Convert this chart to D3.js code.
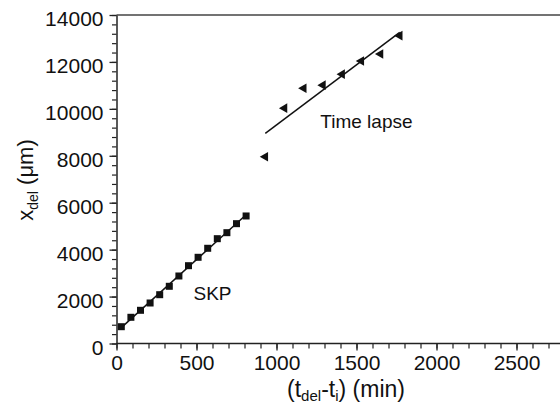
<!DOCTYPE html>
<html>
<head>
<meta charset="utf-8">
<script src="https://cdn.jsdelivr.net/npm/d3@7"></script>
<style>
  html, body { margin: 0; padding: 0; background: #fff; }
  svg { display: block; }
  text { font-family: "Liberation Sans", Arial, sans-serif; fill: #111; }
</style>
</head>
<body>
<svg id="chart" width="560" height="403"></svg>
<script>
// ---- data ----
const skpTime = [30, 90, 150, 210, 270, 330, 390, 450, 510, 570, 630, 690, 750, 810];
const skpDist = [716, 1117, 1415, 1726, 2080, 2438, 2877, 3316, 3674, 4058, 4467, 4723, 5107, 5435];
const lapseTime = [930, 1050, 1170, 1290, 1410, 1530, 1650, 1770];
const lapseDist = [7960, 10030, 10880, 11010, 11480, 12040, 12340, 13120];
const xTicks = [0, 500, 1000, 1500, 2000, 2500];
const yTicks = [0, 2000, 4000, 6000, 8000, 10000, 12000, 14000];

const svg = d3.select("#chart");
const W = 560;
const x = d3.scaleLinear().domain([0, 3000]).range([116.5, 596.5]);
const y = d3.scaleLinear().domain([0, 14000]).range([343.5, 15]);

// top frame line
svg.append("line")
  .attr("x1", x(0)).attr("x2", W)
  .attr("y1", y(14000)).attr("y2", y(14000))
  .attr("stroke", "#444").attr("stroke-width", 1.5);

// minor ticks
const xMinor = d3.range(0, 2801, 100);
const yMinor = d3.range(0, 14001, 400);
svg.append("g").attr("transform", `translate(0,${y(0)})`)
  .call(d3.axisBottom(x).tickValues(xMinor).tickSize(5).tickFormat(""))
  .call(g => g.select(".domain").remove())
  .selectAll("line").attr("stroke", "#222").attr("stroke-width", 1.2);
svg.append("g").attr("transform", `translate(${x(0)},0)`)
  .call(d3.axisLeft(y).tickValues(yMinor).tickSize(4.5).tickFormat(""))
  .call(g => g.select(".domain").remove())
  .selectAll("line").attr("stroke", "#222").attr("stroke-width", 1.2);

// major axes
const gx = svg.append("g").attr("transform", `translate(0,${y(0)})`)
  .call(d3.axisBottom(x).tickValues(xTicks).tickSize(7).tickSizeOuter(0).tickPadding(5).tickFormat(d3.format("d")));
gx.select(".domain").attr("d", `M${x(0)},0H${W}`).attr("stroke", "#222").attr("stroke-width", 1.5);
gx.selectAll(".tick line").attr("stroke", "#222").attr("stroke-width", 1.3);
gx.selectAll(".tick text").attr("font-size", 21).attr("font-family", "Liberation Sans, Arial, sans-serif").attr("fill", "#111");

const gy = svg.append("g").attr("transform", `translate(${x(0)},0)`)
  .call(d3.axisLeft(y).tickValues(yTicks).tickSize(7).tickSizeOuter(0).tickPadding(6).tickFormat(d3.format("d")));
gy.select(".domain").attr("stroke", "#222").attr("stroke-width", 1.5);
gy.selectAll(".tick line").attr("stroke", "#222").attr("stroke-width", 1.3);
gy.selectAll(".tick text").attr("font-size", 21).attr("dy", "0.5em").attr("font-family", "Liberation Sans, Arial, sans-serif").attr("fill", "#111");

// linear fits
function fit(ts, vs) {
  const mt = d3.mean(ts), mv = d3.mean(vs);
  let num = 0, den = 0;
  ts.forEach((t, i) => { num += (t - mt) * (vs[i] - mv); den += (t - mt) * (t - mt); });
  const b = num / den, a = mv - b * mt;
  const t0 = d3.min(ts), t1 = d3.max(ts);
  return [[t0, a + b * t0], [t1, a + b * t1]];
}
const line = d3.line().x(d => x(d[0])).y(d => y(d[1]));
[fit(skpTime, skpDist), fit(lapseTime, lapseDist)].forEach(seg => {
  svg.append("path").attr("d", line(seg)).attr("fill", "none")
    .attr("stroke", "#111").attr("stroke-width", 1.5);
});

// SKP squares
svg.append("g").selectAll("rect").data(skpTime).join("rect")
  .attr("x", (d) => x(d) - 3.5).attr("y", (d, i) => y(skpDist[i]) - 3.5)
  .attr("width", 7).attr("height", 7).attr("fill", "#111");

// Time lapse left-pointing triangles
const tri = d3.symbol().type(d3.symbolTriangle).size(40);
svg.append("g").selectAll("path").data(lapseTime).join("path")
  .attr("d", tri)
  .attr("transform", (d, i) => `translate(${x(d)},${y(lapseDist[i])}) rotate(-90)`)
  .attr("fill", "#111");

// annotations
svg.append("text").attr("x", x(481)).attr("y", y(1854)).attr("font-size", 19).text("SKP");
svg.append("text").attr("x", x(1274)).attr("y", y(9180)).attr("font-size", 19).text("Time lapse");

// axis titles
const yl = svg.append("text")
  .attr("transform", `translate(33,180) rotate(-90)`)
  .attr("text-anchor", "middle").attr("font-size", 22);
yl.append("tspan").text("x");
yl.append("tspan").attr("font-size", 14).attr("dy", 5).text("del");
yl.append("tspan").attr("dy", -5).text(" (\u03bcm)");

const xl = svg.append("text")
  .attr("x", 346).attr("y", 397)
  .attr("text-anchor", "middle").attr("font-size", 23);
xl.append("tspan").text("(t");
xl.append("tspan").attr("font-size", 15).attr("dy", 4).text("del");
xl.append("tspan").attr("dy", -4).text("-t");
xl.append("tspan").attr("font-size", 15).attr("dy", 4).text("i");
xl.append("tspan").attr("dy", -4).text(") (min)");
</script>
</body>
</html>
